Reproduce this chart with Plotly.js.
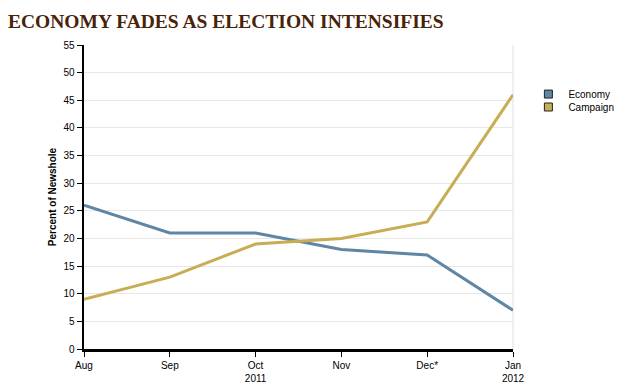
<!DOCTYPE html>
<html>
<head>
<meta charset="utf-8">
<script src="https://cdn.plot.ly/plotly-3.0.1.min.js"></script>
<style>html,body{margin:0;padding:0;background:#fff;}#chart{width:618px;height:392px;}</style>
</head>
<body>
<div id="chart"></div>
<script>
var months = ["Aug", "Sep", "Oct", "Nov", "Dec*", "Jan"];
var tickLabels = ["Aug", "Sep", "Oct<br>2011", "Nov", "Dec*", "Jan<br>2012"];
var economy = [26, 21, 21, 18, 17, 7];
var campaign = [9, 13, 19, 20, 23, 46];
var seriesNames = ["Economy", "Campaign"];
var colors = ["#5e86a5", "#c9ad55"];

var traces = [
  {x: months, y: economy, type: "scatter", mode: "lines", name: seriesNames[0],
   line: {color: colors[0], width: 3}, showlegend: false},
  {x: months, y: campaign, type: "scatter", mode: "lines", name: seriesNames[1],
   line: {color: colors[1], width: 3}, showlegend: false},
  {x: [null], y: [null], type: "scatter", mode: "markers", name: seriesNames[0], legend: "legend",
   marker: {symbol: "square", size: 8, color: colors[0], line: {color: "#222", width: 1}}},
  {x: [null], y: [null], type: "scatter", mode: "markers", name: seriesNames[1], legend: "legend2",
   marker: {symbol: "square", size: 8, color: colors[1], line: {color: "#222", width: 1}}}
];

var legendBase = {xref: "container", yref: "container", xanchor: "left", yanchor: "top",
  font: {size: 10, color: "#000"}, tracegroupgap: 0, itemwidth: 30, bgcolor: "rgba(0,0,0,0)"};

var layout = {
  width: 618, height: 392,
  margin: {l: 84, r: 105, t: 45, b: 43, pad: 0, autoexpand: false},
  paper_bgcolor: "#fff", plot_bgcolor: "#fff",
  font: {family: "Liberation Sans, Arial, sans-serif", size: 10, color: "#000"},
  title: {text: "<b>ECONOMY FADES AS ELECTION INTENSIFIES</b>",
          font: {family: "Liberation Serif, Times New Roman, serif", size: 19.5, color: "#4a2208"},
          x: 0.013, xanchor: "left", y: 0.945, yanchor: "middle"},
  xaxis: {type: "category", categoryorder: "array", categoryarray: months,
          tickvals: months, ticktext: tickLabels, range: [0, 5],
          showgrid: false, zeroline: false, showline: true, linecolor: "#000", linewidth: 2.5,
          ticks: "outside", ticklen: 5, tickcolor: "#000", tickwidth: 1,
          tickfont: {size: 10, color: "#000"}, fixedrange: true},
  yaxis: {range: [0, 55], tickvals: [0,5,10,15,20,25,30,35,40,45,50,55],
          showgrid: true, gridcolor: "#e8e8e8", gridwidth: 1, zeroline: false,
          showline: true, linecolor: "#000", linewidth: 2.5,
          ticks: "outside", ticklen: 5, tickcolor: "#000", tickwidth: 1,
          tickfont: {size: 10, color: "#000"},
          title: {text: "<b>Percent of Newshole</b>", font: {size: 10, color: "#000"}, standoff: 5},
          fixedrange: true},
  shapes: [{type: "line", xref: "paper", yref: "paper", x0: 1, x1: 1, y0: 0, y1: 1,
            line: {color: "#e0e0e0", width: 1}, layer: "below"}],
  legend: Object.assign({}, legendBase, {x: 0.855, y: 0.797}),
  legend2: Object.assign({}, legendBase, {x: 0.855, y: 0.764}),
  showlegend: true
};

Plotly.newPlot("chart", traces, layout, {displayModeBar: false, staticPlot: true});
</script>
</body>
</html>
